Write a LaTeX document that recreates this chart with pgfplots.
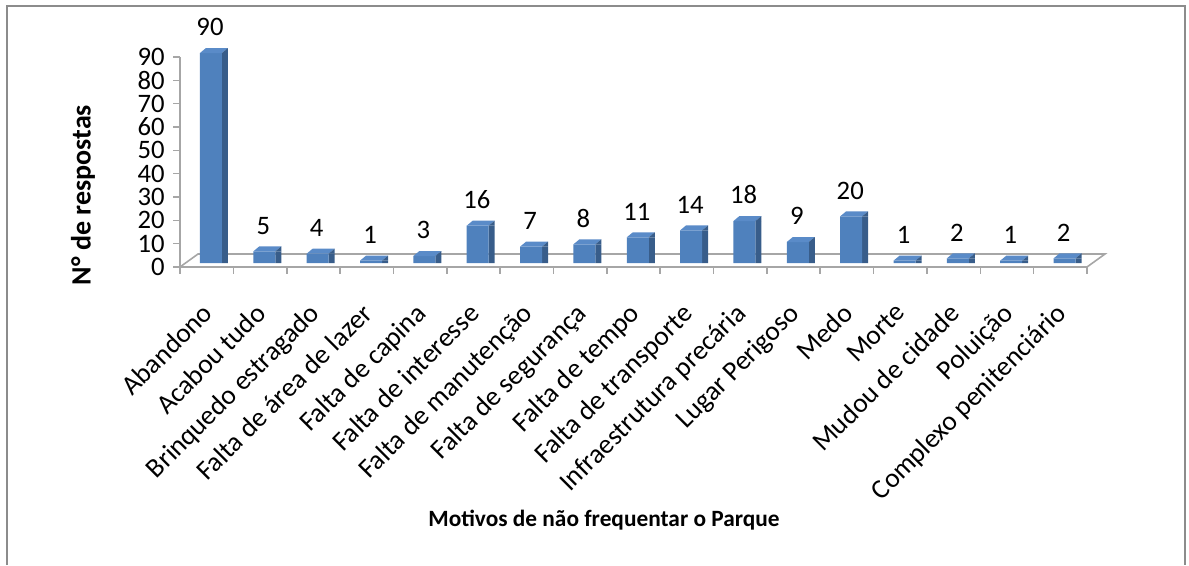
\documentclass[border=0pt]{standalone}
\usepackage{fontspec}
\setmainfont{Carlito}
\usepackage{pgfplots}
\usepackage{pgfplotstable}
\pgfplotsset{compat=1.18}

\definecolor{barfront}{HTML}{4F81BD}
\definecolor{barside}{HTML}{385D8A}
\definecolor{bartop}{HTML}{5A8BC8}
\definecolor{axisgray}{HTML}{A6A6A6}
\definecolor{framegray}{HTML}{8C8C8C}

% top face of a 3d bar, drawn at the data point
\pgfdeclareplotmark{top3d}{%
  \pgfpathmoveto{\pgfpoint{-5.05pt}{3pt}}%
  \pgfpathlineto{\pgfpoint{11.45pt}{3pt}}%
  \pgfpathlineto{\pgfpoint{15.95pt}{6.75pt}}%
  \pgfpathlineto{\pgfpoint{-0.55pt}{6.75pt}}%
  \pgfpathclose
  \pgfsetfillcolor{bartop}%
  \pgfusepath{fill}%
  \pgfpathmoveto{\pgfpoint{11.45pt}{3pt}}%
  \pgfpathlineto{\pgfpoint{15.95pt}{6.75pt}}%
  \pgfpathlineto{\pgfpoint{15.95pt}{3pt}}%
  \pgfpathclose
  \pgfsetfillcolor{barside}%
  \pgfusepath{fill}%
}

\pgfplotstableread{
x y
0 90
1 5
2 4
3 1
4 3
5 16
6 7
7 8
8 11
9 14
10 18
11 9
12 20
13 1
14 2
15 1
16 2
}\motivos

\begin{document}
\begin{tikzpicture}
\useasboundingbox (0,0) rectangle (891.75pt,423.75pt);
\draw[framegray, line width=1.5pt] (5.25pt,0) -- (5.25pt,418.9pt) -- (888.75pt,418.9pt) -- (888.75pt,0);
% floor
\draw[axisgray, line width=1.2pt] (135pt,223.5pt) -- (148.5pt,233.25pt) -- (828.75pt,233.25pt) -- (815.25pt,223.5pt);

\begin{axis}[
    at={(135pt,223.5pt)}, anchor=south west,
    scale only axis, width=680.25pt, height=157.5pt,
    xmin=-0.5, xmax=16.5, ymin=0, ymax=90,
    clip=false,
    axis x line*=bottom, axis y line*=left,
    axis line style={axisgray, line width=1.2pt},
    tick align=outside,
    major tick length=5pt, minor tick length=5pt,
    tick style={axisgray, line width=1.2pt},
    major x tick style={draw=none},
    ytick={0,10,...,90},
    xtick={0,...,16},
    minor xtick={-0.5,0.5,...,16.5},
    xticklabels={Abandono, Acabou tudo, Brinquedo estragado, Falta de área de lazer,
      Falta de capina, Falta de interesse, Falta de manutenção, Falta de segurança,
      Falta de tempo, Falta de transporte, Infraestrutura precária, Lugar Perigoso,
      Medo, Morte, Mudou de cidade, Poluição, Complexo penitenciário},
    x tick label style={rotate=45, anchor=north east, inner sep=0pt,
      font=\fontsize{20.5pt}{22pt}\selectfont, yshift=-11.5pt, xshift=-18pt},
    y tick label style={font=\fontsize{20pt}{22pt}\selectfont, xshift=-3pt},
    /pgf/number format/assume math mode=true,
    nodes near coords,
    every node near coord/.append style={font=\fontsize{20pt}{22pt}\selectfont,
      anchor=base, yshift=16pt, xshift=2.5pt, black},
]
\addplot[ybar, bar width=4.5pt, bar shift=13.7pt, fill=barside, draw=none,
  yshift=3pt, nodes near coords={}] table[x=x,y=y]{\motivos};
\addplot[ybar, bar width=16.5pt, bar shift=3.2pt, fill=barfront, draw=none,
  yshift=3pt, nodes near coords={}] table[x=x,y=y]{\motivos};
\addplot[only marks, mark=top3d] table[x=x,y=y]{\motivos};
\end{axis}

\node[rotate=90, font=\bfseries\fontsize{21pt}{23pt}\selectfont] at (62.25pt,277.5pt) {N° de respostas};
\node[font=\bfseries\fontsize{17.5pt}{19pt}\selectfont] at (453pt,33.75pt) {Motivos de não frequentar o Parque};
\end{tikzpicture}
\end{document}
